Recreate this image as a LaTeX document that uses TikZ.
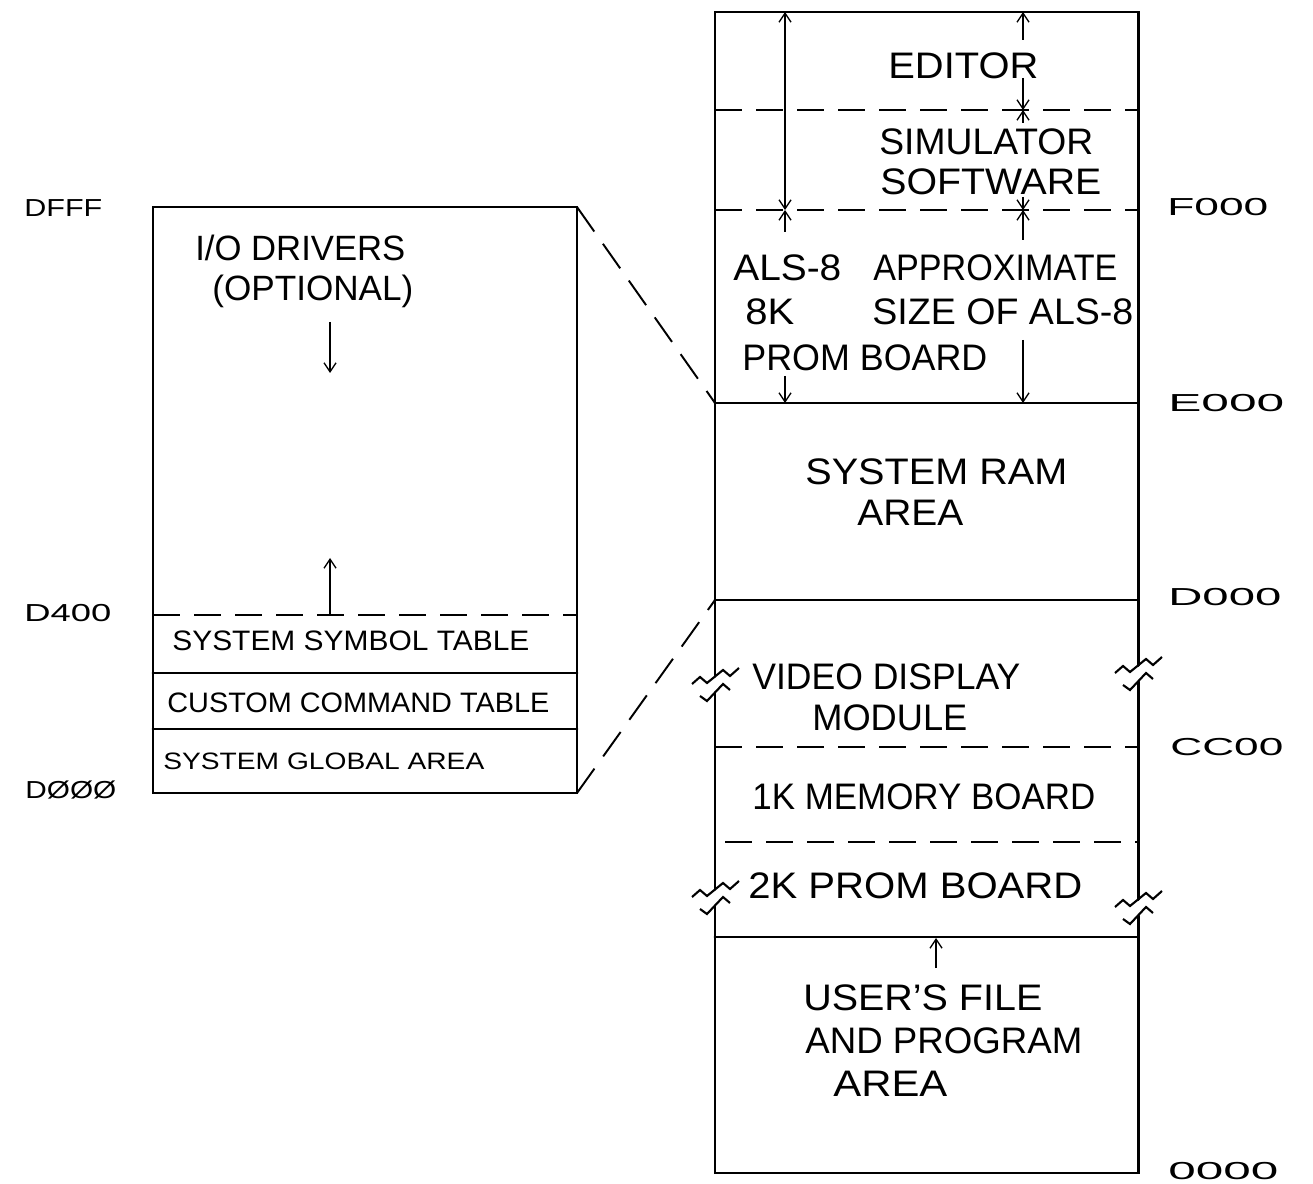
\documentclass[tikz,border=0pt]{standalone}
\usepackage{fontspec}
\usepackage{graphicx}
\setmainfont{Liberation Sans}
\usetikzlibrary{arrows.meta}
\newlength\pxu
\setlength\pxu{0.2mm}
\newcommand\fitw[2]{\resizebox{#1\pxu}{\height}{#2}}
\tikzset{
  wall/.style={line width=1.7pt,line cap=round},
  splitline/.style={line width=1.1pt,dash pattern=on 5.4mm off 2.8mm},
  zoomline/.style={line width=1.1pt,dash pattern=on 6mm off 3mm},
  dim/.style={line width=0.75pt,-{Straight Barb[length=1.8mm,width=2.4mm]}},
  dimboth/.style={line width=0.75pt,{Straight Barb[length=1.8mm,width=2.4mm]}-{Straight Barb[length=1.8mm,width=2.4mm]}},
  bigtxt/.style={anchor=west,inner sep=0pt,font=\fontsize{21}{23}\selectfont},
  boxtxt/.style={anchor=west,inner sep=0pt,font=\fontsize{16}{18}\selectfont},
  addr/.style={anchor=west,inner sep=0pt,font=\fontsize{14}{16}\selectfont},
  brkmark/.pic={
    \draw[line width=1.2pt] (-23,4) -- (-15,-3) -- (-8,3) -- (8,-10) -- (15,-4) -- (24,-12);
    \draw[line width=1.2pt] (-15,16) -- (-8,21) -- (8,4) -- (15,10);
  },
}

\begin{document}
\begin{tikzpicture}[x=0.2mm,y=-0.2mm]
  \useasboundingbox (0,0) rectangle (1313,1184);

  % detail of the system RAM area
  \coordinate (lbox-tl) at (153,207);
  \coordinate (lbox-tr) at (577,207);
  \coordinate (lbox-br) at (577,793);
  \draw[wall] (lbox-tl) rectangle (lbox-br);
  \draw[splitline] (153,615) -- (577,615);
  \draw[wall] (153,673) -- (577,673);
  \draw[wall] (153,729) -- (577,729);
  \node[boxtxt,font=\fontsize{20}{22}\selectfont] (iodrv) at (195,248) {\fitw{210}{I/O DRIVERS}};
  \node[boxtxt,font=\fontsize{20}{22}\selectfont] (option) at (212,291) {\fitw{201}{(OPTIONAL)}};
  \draw[dim] (330,322) -- (330,373);
  \draw[dim] (330,615) -- (330,558);
  \node[boxtxt] (symtab) at (172,641) {\fitw{357}{SYSTEM SYMBOL TABLE}};
  \node[boxtxt] (cmdtab) at (167,703) {\fitw{382}{CUSTOM COMMAND TABLE}};
  \node[boxtxt,font=\fontsize{13.5}{15}\selectfont] (global) at (163,761) {\fitw{321}{SYSTEM GLOBAL AREA}};

  \node[addr] (dfff) at (24,208) {\fitw{78}{DFFF}};
  \node[addr] (d400) at (24,613) {\fitw{87}{D400}};
  \node[addr] (d000l) at (25,790) {\fitw{91}{DØØØ}};

  % full memory map
  \coordinate (ram-tl) at (715,403);
  \coordinate (ram-bl) at (715,600);
  \draw[wall] (715,676.5) -- (715,12) -- (1138,12) -- (1138,665.5);
  \draw[wall] (715,692.5) -- (715,889.5);
  \draw[wall] (715,905.5) -- (715,1173) -- (1138,1173) -- (1138,915.5);
  \draw[wall] (1138,681.5) -- (1138,899.5);
  \pic at (715,680) {brkmark};
  \pic at (1138,669) {brkmark};
  \pic at (715,893) {brkmark};
  \pic at (1138,903) {brkmark};

  \draw[splitline] (715,110) -- (1138,110);
  \draw[splitline] (715,210) -- (1138,210);
  \draw[wall] (ram-tl) -- (1138,403);
  \draw[wall] (ram-bl) -- (1138,600);
  \draw[splitline] (715,747) -- (1138,747);
  \draw[splitline] (725,842) -- (1138,842);
  \draw[wall] (715,937) -- (1138,937);

  \draw[zoomline] (lbox-tr) -- (ram-tl);
  \draw[zoomline] (lbox-br) -- (ram-bl);

  \draw[dimboth] (785,12) -- (785,210);
  \draw[dim] (785,232) -- (785,210);
  \draw[dim] (785,376) -- (785,403);
  \draw[dim] (1023,40) -- (1023,12);
  \draw[dim] (1023,78) -- (1023,110);
  \draw[dim] (1023,123) -- (1023,110);
  \draw[dim] (1023,197) -- (1023,210);
  \draw[dim] (1023,240) -- (1023,210);
  \draw[dim] (1023,340) -- (1023,403);
  \draw[dim] (936,968) -- (936,938);

  \node[bigtxt] (editor) at (888,66) {\fitw{150}{EDITOR}};
  \node[bigtxt] (simul) at (879,142) {\fitw{214}{SIMULATOR}};
  \node[bigtxt] (softw) at (880,182) {\fitw{221}{SOFTWARE}};
  \node[bigtxt] (als) at (733,268) {\fitw{108}{ALS-8}};
  \node[bigtxt] (eightk) at (745,312) {\fitw{49}{8K}};
  \node[bigtxt] (promb) at (742,358) {\fitw{245}{PROM BOARD}};
  \node[bigtxt] (approx) at (873,268) {\fitw{244}{APPROXIMATE}};
  \node[bigtxt] (sizeof) at (872,312) {\fitw{261}{SIZE OF ALS-8}};
  \node[bigtxt] (sysram) at (805,472) {\fitw{262}{SYSTEM RAM}};
  \node[bigtxt] (ramarea) at (857,513) {\fitw{106}{AREA}};
  \node[bigtxt] (video) at (752,677) {\fitw{268}{VIDEO DISPLAY}};
  \node[bigtxt] (module) at (812,718) {\fitw{155}{MODULE}};
  \node[bigtxt] (onek) at (752,797) {\fitw{343}{1K MEMORY BOARD}};
  \node[bigtxt] (twok) at (748,886) {\fitw{334}{2K PROM BOARD}};
  \node[bigtxt] (userf) at (803,998) {\fitw{239}{USER'S FILE}};
  \node[bigtxt] (andprog) at (805,1041) {\fitw{277}{AND PROGRAM}};
  \node[bigtxt] (userarea) at (833,1084) {\fitw{114}{AREA}};

  \node[addr] (f000) at (1167,207) {\fitw{101}{F000}};
  \node[addr] (e000) at (1168,403) {\fitw{116}{E000}};
  \node[addr] (d000r) at (1168,597) {\fitw{113}{D000}};
  \node[addr] (cc00) at (1170,747) {\fitw{113}{CC00}};
  \node[addr] (z0000) at (1168,1171) {\fitw{110}{0000}};
\end{tikzpicture}
\end{document}
